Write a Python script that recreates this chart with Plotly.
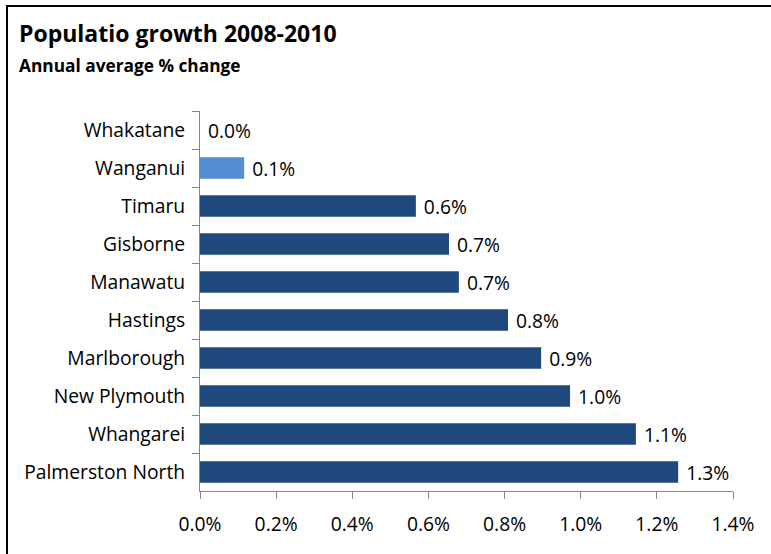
import plotly.graph_objects as go

# Annual average population change, 2008-2010 (fractions, shown as %)
districts = [
    "Whakatane", "Wanganui", "Timaru", "Gisborne", "Manawatu",
    "Hastings", "Marlborough", "New Plymouth", "Whangarei", "Palmerston North",
]
growth = [
    0.0, 0.00116, 0.00567, 0.00654, 0.00680,
    0.00809, 0.00896, 0.00972, 0.01145, 0.01256,
]
highlight = "Wanganui"

x_ticks = [0.0, 0.002, 0.004, 0.006, 0.008, 0.010, 0.012, 0.014]

DARK = "#1F497D"
LIGHT = "#558ED5"
AXIS = "#868686"
FONT = "Open Sans"
LABEL_SIZE = 19.3

W, H = 771, 554
L, R, T, B = 200, 38, 111, 63
pw, ph = W - L - R, H - T - B


def px_to_paper(x, y):
    return (x - L) / pw, (H - B - y) / ph


colors = [LIGHT if d == highlight else DARK for d in districts]

fig = go.Figure(
    go.Bar(
        x=growth,
        y=districts,
        orientation="h",
        marker=dict(color=colors, line=dict(width=0)),
        width=0.565,
        texttemplate=" %{x:.1%}",
        textposition="outside",
        textfont=dict(family=FONT, size=LABEL_SIZE, color="#000000"),
        constraintext="none",
        cliponaxis=False,
        hoverinfo="skip",
    )
)

fig.update_xaxes(
    range=[0, 0.014],
    tickvals=x_ticks,
    tickformat=".1%",
    showgrid=False,
    zeroline=False,
    showline=True,
    linecolor=AXIS,
    linewidth=1,
    ticks="outside",
    ticklen=7,
    tickcolor=AXIS,
    tickfont=dict(family=FONT, size=LABEL_SIZE, color="#000000"),
    ticklabelstandoff=9,
    fixedrange=True,
)
fig.update_yaxes(
    categoryorder="array",
    categoryarray=districts,
    autorange="reversed",
    showgrid=False,
    zeroline=False,
    showline=True,
    linecolor=AXIS,
    linewidth=1,
    ticks="outside",
    tickson="boundaries",
    ticklen=7,
    tickcolor=AXIS,
    tickfont=dict(family=FONT, size=LABEL_SIZE, color="#000000"),
    ticklabelstandoff=10,
    fixedrange=True,
)

tx, ty = px_to_paper(17, 33)
sx, sy = px_to_paper(17, 65)
fig.add_annotation(
    text="<b>Populatio growth 2008-2010</b>",
    xref="paper", yref="paper", x=tx, y=ty,
    xanchor="left", yanchor="middle", showarrow=False,
    font=dict(family=FONT, size=23, color="#000000"),
)
fig.add_annotation(
    text="<b>Annual average % change</b>",
    xref="paper", yref="paper", x=sx, y=sy,
    xanchor="left", yanchor="middle", showarrow=False,
    font=dict(family=FONT, size=17.3, color="#000000"),
)

# Chart frame: left and top edges
bx0, by0 = px_to_paper(7, H + 2)
bx1, by1 = px_to_paper(7, 6)
bx2, _ = px_to_paper(W + 2, 6)
fig.add_shape(
    type="path",
    xref="paper", yref="paper",
    path=f"M {bx0} {by0} L {bx1} {by1} L {bx2} {by1}",
    line=dict(color="#000000", width=2),
)

fig.update_layout(
    width=W,
    height=H,
    margin=dict(l=L, r=R, t=T, b=B),
    paper_bgcolor="#FFFFFF",
    plot_bgcolor="#FFFFFF",
    showlegend=False,
    bargap=0.435,
)

fig.write_html("out.html")
